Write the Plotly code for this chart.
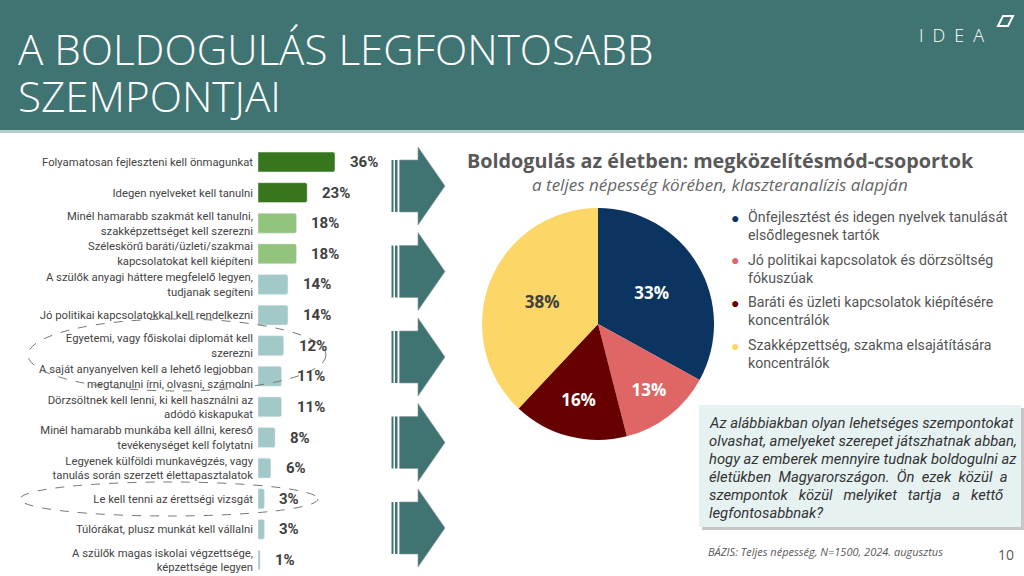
import plotly.graph_objects as go

# ---- data -------------------------------------------------------------
labels = [
    "Folyamatosan fejleszteni kell önmagunkat",
    "Idegen nyelveket kell tanulni",
    "Minél hamarabb szakmát kell tanulni,<br>szakképzettséget kell szerezni",
    "Széleskörű baráti/üzleti/szakmai<br>kapcsolatokat kell kiépíteni",
    "A szülők anyagi háttere megfelelő legyen,<br>tudjanak segíteni",
    "Jó politikai kapcsolatokkal kell rendelkezni",
    "Egyetemi, vagy főiskolai diplomát kell<br>szerezni",
    "A saját anyanyelven kell a lehető legjobban<br>megtanulni írni, olvasni, számolni",
    "Dörzsöltnek kell lenni, ki kell használni az<br>adódó kiskapukat",
    "Minél hamarabb munkába kell állni, kereső<br>tevékenységet kell folytatni",
    "Legyenek külföldi munkavégzés, vagy<br>tanulás során szerzett élettapasztalatok",
    "Le kell tenni az érettségi vizsgát",
    "Túlórákat, plusz munkát kell vállalni",
    "A szülők magas iskolai végzettsége,<br>képzettsége legyen",
]
values = [36, 23, 18, 18, 14, 14, 12, 11, 11, 8, 6, 3, 3, 1]

pie_groups = [
    "Önfejlesztést és idegen nyelvek tanulását<br>elsődlegesnek tartók",
    "Jó politikai kapcsolatok és dörzsöltség<br>fókuszúak",
    "Baráti és üzleti kapcsolatok kiépítésére<br>koncentrálók",
    "Szakképzettség, szakma elsajátítására<br>koncentrálók",
]
pie_values = [33, 13, 16, 38]

question_lines = [
    "Az alábbiakban olyan lehetséges szempontokat",
    "olvashat, amelyeket szerepet játszhatnak abban,",
    "hogy az emberek mennyire tudnak boldogulni az",
    "életükben Magyarországon. Ön ezek közül a",
    "szempontok közül melyiket tartja a kettő",
    "legfontosabbnak?",
]

# ---- styles -----------------------------------------------------------
TEAL = "#407472"
bar_colors = ["#38761d"] * 2 + ["#93c47d"] * 2 + ["#a2c8c8"] * 10
pie_colors = ["#0b3560", "#e06666", "#660000", "#fcd667"]
pie_text_colors = ["white", "white", "white", "#404040"]
# extra non-breaking spaces between words to imitate justified text
question_pad = [0, 0, 0, 1, 2, 0]


def X(px):
    return px / 1024


def Y(py):
    return 1 - py / 576


def path(pts):
    return "M " + " L ".join(f"{X(a):.5f} {Y(b):.5f}" for a, b in pts) + " Z"


fig = go.Figure()

# bar chart
fig.add_trace(
    go.Bar(
        x=values,
        y=labels,
        orientation="h",
        width=0.65,
        marker=dict(color=bar_colors, cornerradius=2),
        hoverinfo="skip",
        showlegend=False,
    )
)

# pie chart
fig.add_trace(
    go.Pie(
        values=pie_values,
        labels=pie_groups,
        sort=False,
        direction="clockwise",
        rotation=0,
        marker=dict(colors=pie_colors, line=dict(width=0)),
        texttemplate="<b>%{value}%</b>",
        textposition="inside",
        insidetextorientation="horizontal",
        insidetextfont=dict(family="Open Sans", size=17, color=pie_text_colors),
        domain=dict(x=[X(482), X(714)], y=[Y(440), Y(208)]),
        showlegend=False,
        hoverinfo="skip",
    )
)

shapes = []
# header band
shapes.append(dict(type="rect", xref="paper", yref="paper", x0=0, x1=1,
                   y0=Y(130), y1=1, fillcolor=TEAL, line=dict(width=0), layer="below"))
shapes.append(dict(type="rect", xref="paper", yref="paper", x0=0, x1=1,
                   y0=Y(133), y1=Y(130), fillcolor="#b4cdcb", line=dict(width=0), layer="below"))
# logo mark
shapes.append(dict(type="path", xref="paper", yref="paper",
                   path=path([(998, 26), (1003, 16), (1013, 16), (1008, 26)]),
                   line=dict(color="white", width=2)))

# arrows
for cy in [186, 271.5, 357, 442.5, 528]:
    for a, b in [(391.5, 393.5), (395, 397.5)]:
        shapes.append(dict(type="rect", xref="paper", yref="paper", x0=X(a), x1=X(b),
                           y0=Y(cy + 26), y1=Y(cy - 26), fillcolor=TEAL,
                           line=dict(width=0)))
    shapes.append(dict(type="path", xref="paper", yref="paper",
                       path=path([(399.5, cy - 26), (418, cy - 26), (418, cy - 39),
                                  (445, cy), (418, cy + 39), (418, cy + 26),
                                  (399.5, cy + 26)]),
                       fillcolor=TEAL, line=dict(color="#8a9a99", width=0.6)))

# dashed ellipses
shapes.append(dict(type="circle", xref="paper", yref="paper",
                   x0=X(28), x1=X(326), y0=Y(391), y1=Y(319),
                   line=dict(color="#777777", width=1, dash="dash")))
shapes.append(dict(type="circle", xref="paper", yref="paper",
                   x0=X(20), x1=X(318), y0=Y(516), y1=Y(482),
                   line=dict(color="#777777", width=1, dash="dash")))

# question box with shadow
shapes.append(dict(type="rect", xref="paper", yref="paper", x0=X(702), x1=X(1024),
                   y0=Y(530), y1=Y(408), fillcolor="rgba(0,0,0,0.22)", line=dict(width=0)))
shapes.append(dict(type="rect", xref="paper", yref="paper", x0=X(699), x1=X(1021),
                   y0=Y(527), y1=Y(405), fillcolor="#e6f2f2", line=dict(width=0)))

annotations = []
# title
for txt, yy in [("A BOLDOGULÁS LEGFONTOSABB", 48), ("SZEMPONTJAI", 95)]:
    annotations.append(dict(x=X(16), y=Y(yy), xref="paper", yref="paper", xanchor="left",
                            yanchor="middle", showarrow=False, text=txt,
                            font=dict(family="Open Sans", size=42.2, color="white",
                                      weight=300)))
annotations.append(dict(x=X(986), y=Y(35), xref="paper", yref="paper", xanchor="right",
                        yanchor="middle", showarrow=False, text="I\u2002D\u2002E\u2002A",
                        font=dict(family="Open Sans", size=18, color="white", weight=300)))

# bar value labels
for lab, v in zip(labels, values):
    annotations.append(dict(x=v, y=lab, xref="x", yref="y", xanchor="left", xshift=13,
                            yanchor="middle", showarrow=False, text=f"<b>{v}%</b>",
                            font=dict(family="Roboto", size=15, color="#404040")))

# pie title
annotations.append(dict(x=X(720), y=Y(160), xref="paper", yref="paper", xanchor="center",
                        yanchor="middle", showarrow=False,
                        text="<b>Boldogulás az életben: megközelítésmód-csoportok</b>",
                        font=dict(family="Open Sans", size=19.8, color="#595959")))
annotations.append(dict(x=X(720), y=Y(184), xref="paper", yref="paper", xanchor="center",
                        yanchor="middle", showarrow=False,
                        text="<i>a teljes népesség körében, klaszteranalízis alapján</i>",
                        font=dict(family="Open Sans", size=17, color="#666666")))

# pie legend
for i, (g, c) in enumerate(zip(pie_groups, pie_colors)):
    top = 207 + i * 42.7
    annotations.append(dict(x=X(735), y=Y(top + 10), xref="paper", yref="paper",
                            xanchor="center", yanchor="middle", showarrow=False,
                            text="●", font=dict(size=14, color=c)))
    annotations.append(dict(x=X(746), y=Y(top), xref="paper", yref="paper",
                            xanchor="left", yanchor="top", showarrow=False, align="left",
                            text=g, font=dict(family="Roboto", size=14.2, color="#555555")))

# question text, one annotation per line
for i, (line, pad) in enumerate(zip(question_lines, question_pad)):
    txt = line.replace(" ", " " + "\u00a0" * pad) if pad else line
    annotations.append(dict(x=X(707), y=Y(423 + i * 18), xref="paper", yref="paper",
                            xanchor="left", yanchor="middle", showarrow=False,
                            text=f"<i>{txt}</i>",
                            font=dict(family="Roboto", size=14.8, color="#333333")))

# footnotes
annotations.append(dict(x=X(706), y=Y(551), xref="paper", yref="paper", xanchor="left",
                        yanchor="middle", showarrow=False,
                        text="<i>BÁZIS: Teljes népesség, N=1500, 2024. augusztus</i>",
                        font=dict(family="Open Sans", size=11, color="#595959")))
annotations.append(dict(x=X(1016), y=Y(554), xref="paper", yref="paper", xanchor="right",
                        yanchor="middle", showarrow=False, text="10",
                        font=dict(family="Open Sans", size=14, color="#595959")))

fig.update_layout(
    width=1024,
    height=576,
    margin=dict(l=0, r=0, t=0, b=0),
    paper_bgcolor="white",
    plot_bgcolor="rgba(0,0,0,0)",
    shapes=shapes,
    annotations=annotations,
    xaxis=dict(domain=[X(258), X(400)], range=[0, 66.4], visible=False, fixedrange=True),
    yaxis=dict(domain=[Y(575.3), Y(146.7)], autorange="reversed", showgrid=False,
               zeroline=False, ticks="", showline=False, ticklabelstandoff=4,
               fixedrange=True,
               tickfont=dict(family="Roboto", size=11.3, color="#444444")),
    showlegend=False,
    bargap=0.35,
)

# drop the default page margin so the slide starts at the top-left corner
fig.write_html("out.html", config={"displayModeBar": False},
               post_script="document.body.style.margin='0';")
